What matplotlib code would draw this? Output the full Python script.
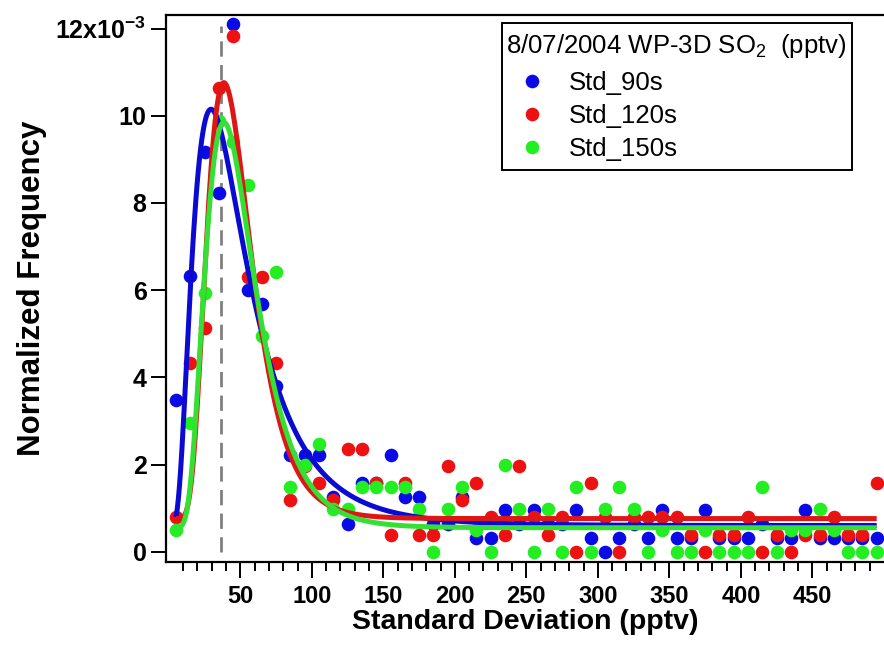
import numpy as np
import matplotlib.pyplot as plt
from matplotlib.patches import Rectangle

plt.rcParams['font.family'] = ['Liberation Sans', 'DejaVu Sans']
plt.rcParams['mathtext.fontset'] = 'custom'
plt.rcParams['mathtext.rm'] = 'Liberation Sans'
plt.rcParams['mathtext.it'] = 'Liberation Sans:italic'
plt.rcParams['mathtext.bf'] = 'Liberation Sans:bold'

# histogram bin centres (pptv) and normalized frequency (x 1e-3)
std_bins = list(range(5, 500, 10))

std_90s = [3.48, 6.32, 9.17, 8.22, 12.1, 6.01, 5.69, 3.79, 2.21, 2.21,
           2.21, 1.26, 0.63, 1.58, 1.58, 2.21, 1.26, 1.26, 0.63, 0.63,
           1.26, 0.32, 0.32, 0.95, 0.63, 0.95, 0.63, 0.63, 0.95, 0.32,
           0.00, 0.32, 0.63, 0.32, 0.95, 0.32, 0.32, 0.95, 0.32, 0.32,
           0.32, 0.63, 0.32, 0.32, 0.95, 0.32, 0.32, 0.32, 0.32, 0.32]

std_120s = [0.79, 4.33, 5.12, 10.63, 11.82, 6.30, 6.30, 4.33, 1.18, 1.97,
            1.57, 1.18, 2.36, 2.36, 1.57, 0.39, 1.57, 0.39, 0.39, 1.97,
            1.18, 1.57, 0.79, 0.39, 1.97, 0.79, 0.39, 0.79, 0.00, 1.57,
            0.79, 0.00, 0.79, 0.79, 0.79, 0.79, 0.39, 0.00, 0.39, 0.39,
            0.79, 0.00, 0.39, 0.00, 0.39, 0.39, 0.79, 0.39, 0.39, 1.57]

std_150s = [0.49, 2.96, 5.93, 9.88, 9.39, 8.40, 4.94, 6.42, 1.48, 1.98,
            2.47, 0.99, 0.99, 1.48, 1.48, 1.48, 1.48, 0.99, 0.00, 0.99,
            1.48, 0.49, 0.00, 1.98, 0.99, 0.00, 0.99, 0.00, 1.48, 0.00,
            0.99, 1.48, 0.99, 0.00, 0.49, 0.00, 0.00, 0.49, 0.00, 0.00,
            0.00, 1.48, 0.00, 0.49, 0.49, 0.99, 0.49, 0.00, 0.00, 0.00]

# log-normal fit coefficients  y0, A, x0, width
fit_90s = [0.60, 9.55, 29.5, 0.90]
fit_120s = [0.76, 10.0, 38.5, 0.57]
fit_150s = [0.55, 9.30, 38.5, 0.63]

series_names = ['Std_90s', 'Std_120s', 'Std_150s']
series_colors = ['#0a0ae6', '#ee1111', '#22ee22']
line_colors = ['#0a0ad2', '#e01515', '#33e033']

mode_line = 36.6
y_ticks = [0, 2, 4, 6, 8, 10, 12]
y_ticklabels = ['0', '2', '4', '6', '8', '10', r'12x10$^{\mathbf{-3}}$']
x_ticks = [50, 100, 150, 200, 250, 300, 350, 400, 450]


def lognorm(x, p):
    y0, A, x0, w = p
    return y0 + A * np.exp(-(np.log(x / x0) / w) ** 2)


fig = plt.figure(figsize=(8.84, 6.46), dpi=100)
ax = fig.add_axes([166 / 884, 1 - 562 / 646, 1 - 166 / 884, (562 - 15) / 646])

ax.plot([mode_line, mode_line], [0, 12.05], color='#808080', lw=2,
        dashes=(5.5, 3.0), zorder=1)

for vals, name, c in zip([std_90s, std_120s, std_150s], series_names, series_colors):
    ax.plot(std_bins, vals, 'o', ms=9.8, color=c, mec=c, mew=0, label=name, zorder=2)

xx = np.linspace(std_bins[0], std_bins[-1], 600)
for p, c in zip([fit_90s, fit_120s, fit_150s], line_colors):
    ax.plot(xx, lognorm(xx, p), color=c, lw=3.6, solid_capstyle='butt', zorder=3)

ax.set_xlim(-2, 500.1)
ax.set_ylim(-0.236, 12.31)

ax.set_yticks(y_ticks)
ax.set_yticklabels(y_ticklabels)
ax.set_xticks(x_ticks)
ax.set_xticks(list(range(10, 500, 10)), minor=True)

ax.tick_params(axis='y', which='major', direction='out', length=11, width=1.4,
               labelsize=18, pad=3)
ax.tick_params(axis='x', which='major', direction='out', length=11.5, width=1.4,
               labelsize=17, pad=5)
ax.tick_params(axis='x', which='minor', direction='out', length=6.5, width=1.4)
for lab in ax.get_yticklabels() + ax.get_xticklabels():
    lab.set_fontweight('bold')

for s in ['left', 'top', 'bottom']:
    ax.spines[s].set_linewidth(1.6)
ax.spines['right'].set_visible(False)

ax.set_ylabel('Normalized Frequency', fontsize=22.5, fontweight='bold', labelpad=6)
ax.set_xlabel('Standard Deviation (pptv)', fontsize=20.5, fontweight='bold', labelpad=1)

# legend box drawn separately so its size follows the original
fig.patches.append(Rectangle((502 / 884, 1 - 170 / 646), 350 / 884, 147 / 646,
                             transform=fig.transFigure, fill=False,
                             lw=1.4, ec='black', zorder=5))
leg = ax.legend(title=r'8/07/2004 WP-3D SO$_2$  (pptv)', loc='upper left',
                bbox_to_anchor=(506 / 884, 1 - 32 / 646), bbox_transform=fig.transFigure,
                fontsize=18.5, title_fontsize=18.5, alignment='left',
                frameon=False, borderpad=0.0, handlelength=2.0,
                handletextpad=0.45, labelspacing=0.35, borderaxespad=0)
leg._legend_box.sep = 8

fig.savefig('out.png', dpi=100)
